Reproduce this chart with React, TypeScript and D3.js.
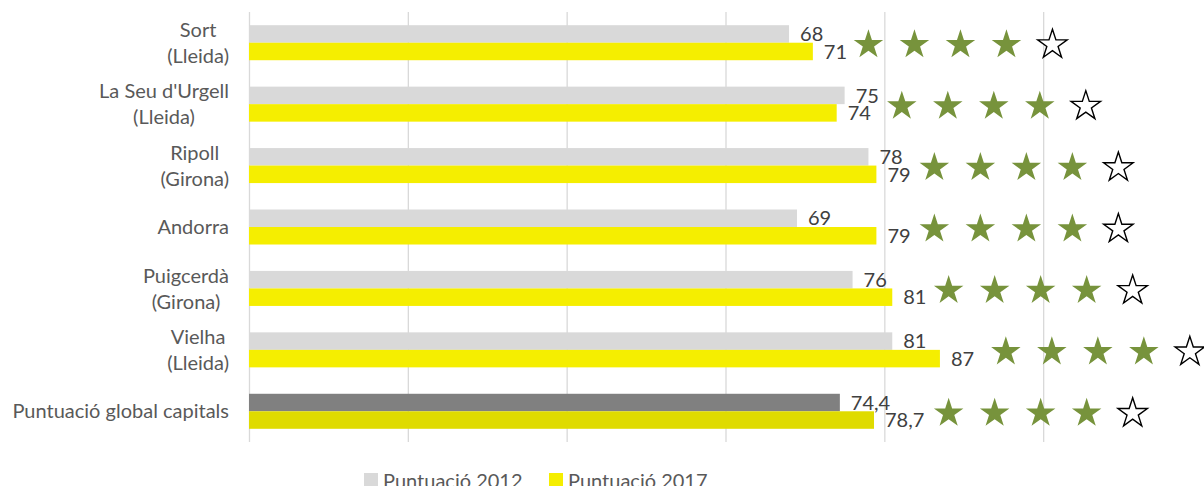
import { useEffect, useRef } from "react";
import * as d3 from "d3";

const categories = [
  "Sort (Lleida)",
  "La Seu d'Urgell (Lleida)",
  "Ripoll (Girona)",
  "Andorra",
  "Puigcerdà (Girona)",
  "Vielha (Lleida)",
  "Puntuació global capitals",
];
const labelLines = [
  ["Sort", "(Lleida)"],
  ["La Seu d'Urgell", "(Lleida)"],
  ["Ripoll", "(Girona)"],
  ["Andorra"],
  ["Puigcerdà", "(Girona)"],
  ["Vielha", "(Lleida)"],
  ["Puntuació global capitals"],
];
const values2012 = [68, 75, 78, 69, 76, 81, 74.4];
const values2017 = [71, 74, 79, 79, 81, 87, 78.7];
// where the row of stars starts, in score units
const starStart = [78.0, 82.2, 86.3, 86.3, 88.1, 95.3, 88.1];
const starsFilled = [4, 4, 4, 4, 4, 4, 4];
const starsTotal = 5;
const xTicks = [0, 20, 40, 60, 80, 100];
const seriesNames = ["Puntuació 2012", "Puntuació 2017"];

const W = 1204;
const H = 486;
const FONT = "Lato, 'Open Sans', sans-serif";
const FS = 20;

export default function App() {
  const ref = useRef<SVGSVGElement | null>(null);

  useEffect(() => {
    if (!ref.current) return;
    const svg = d3.select(ref.current);
    svg.selectAll("*").remove();

    const x = d3.scaleLinear().domain([0, 120]).range([249, 1202]);
    const y = d3
      .scaleBand<string>()
      .domain(categories)
      .range([12, 442])
      .paddingInner(0.43)
      .paddingOuter(0.215);
    const sub = d3
      .scaleBand<string>()
      .domain(["2012", "2017"])
      .range([0, y.bandwidth()]);

    const fmt = d3.formatLocale({
      decimal: ",",
      thousands: ".",
      grouping: [3],
      currency: ["", "€"],
    }).format("~g");

    // Gridlines
    svg
      .append("g")
      .selectAll("line")
      .data(xTicks)
      .join("line")
      .attr("x1", (d) => x(d) + 0.5)
      .attr("x2", (d) => x(d) + 0.5)
      .attr("y1", 12)
      .attr("y2", 442)
      .attr("stroke", "#d9d9d9")
      .attr("stroke-width", 1.3);

    const last = categories.length - 1;
    const color2012 = (i: number) => (i === last ? "#808080" : "#d9d9d9");
    const color2017 = (i: number) => (i === last ? "#dfdb00" : "#f5ee00");

    const rows = svg
      .append("g")
      .selectAll("g")
      .data(categories)
      .join("g")
      .attr("transform", (d) => `translate(0,${y(d)})`);

    const series = [
      { key: "2012", vals: values2012, color: color2012 },
      { key: "2017", vals: values2017, color: color2017 },
    ];

    series.forEach((s) => {
      rows
        .append("rect")
        .attr("x", x(0))
        .attr("y", sub(s.key)!)
        .attr("width", (_, i) => x(s.vals[i]) - x(0))
        .attr("height", sub.bandwidth())
        .attr("fill", (_, i) => s.color(i));
      rows
        .append("text")
        .attr("x", (_, i) => x(s.vals[i]) + 11)
        .attr("y", sub(s.key)! + sub.bandwidth() / 2)
        .attr("dy", "0.36em")
        .attr("font-family", FONT)
        .attr("font-size", FS)
        .attr("fill", "#404040")
        .text((_, i) => fmt(s.vals[i]));
    });

    // Stars
    const star = d3.symbol(d3.symbolStar, (15.5 * 15.5) / 0.8908130915292852);
    rows.each(function (_, i) {
      const g = d3.select(this);
      const cy = y.bandwidth() / 2 + 2;
      d3.range(starsTotal).forEach((k) => {
        const filled = k < starsFilled[i];
        g.append("path")
          .attr("d", star()!)
          .attr("transform", `translate(${x(starStart[i]) + k * 46},${cy})`)
          .attr("fill", filled ? "#77933c" : "#ffffff")
          .attr("stroke", filled ? "none" : "#000000")
          .attr("stroke-width", 1.4)
          .attr("stroke-linejoin", "miter");
      });
    });

    // Category labels: centred lines, block right-aligned
    rows.each(function (_, i) {
      const g = d3.select(this);
      const lines = labelLines[i];
      const cy = y.bandwidth() / 2;
      const t = g
        .append("g")
        .selectAll("text")
        .data(lines)
        .join("text")
        .attr("y", (_, j) => cy + (j - (lines.length - 1) / 2) * 26)
        .attr("dy", "0.36em")
        .attr("text-anchor", "middle")
        .attr("font-family", FONT)
        .attr("font-size", FS)
        .attr("fill", "#595959")
        .text((d) => d);
      let maxW = 0;
      t.each(function () {
        maxW = Math.max(maxW, (this as SVGTextElement).getComputedTextLength());
      });
      t.attr("x", 229 - maxW / 2);
    });

    // Legend
    const legend = svg
      .append("g")
      .selectAll("g")
      .data(seriesNames)
      .join("g")
      .attr("transform", (_, i) => `translate(${[364, 549][i]},473)`);
    legend
      .append("rect")
      .attr("width", 14)
      .attr("height", 14)
      .attr("fill", (_, i) => [color2012(0), color2017(0)][i]);
    legend
      .append("text")
      .attr("x", 19)
      .attr("y", 15)
      .attr("font-family", FONT)
      .attr("font-size", FS)
      .attr("fill", "#595959")
      .text((d) => d);
  }, []);

  return (
    <svg
      ref={ref}
      width={W}
      height={H}
      style={{ position: "absolute", left: 0, top: 0, background: "#fff" }}
    />
  );
}
